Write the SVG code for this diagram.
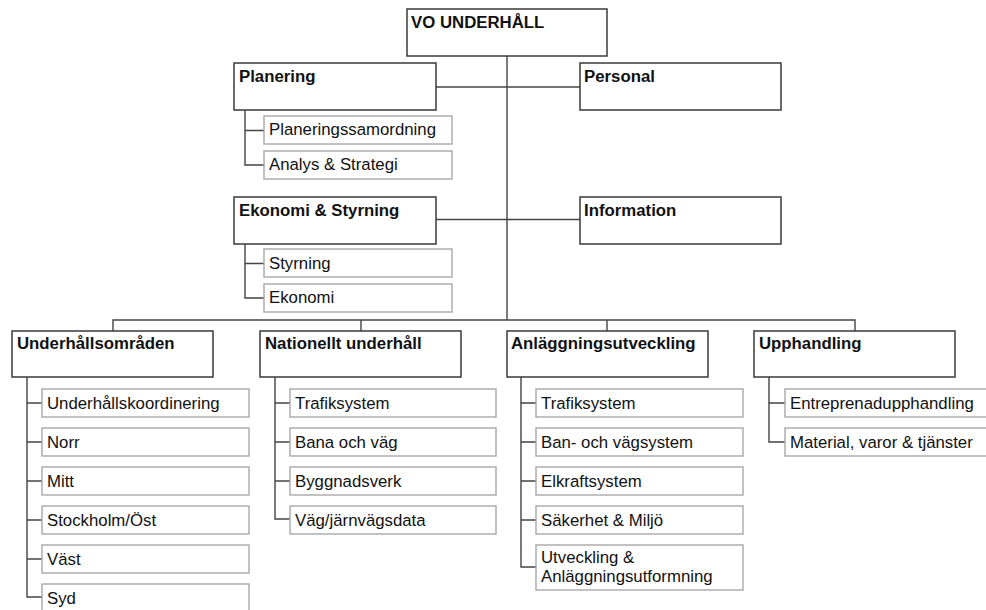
<svg xmlns="http://www.w3.org/2000/svg" width="986" height="610" viewBox="0 0 986 610">
  <style>
    .hd rect { fill: #fff; stroke: #3a3a3a; stroke-width: 1.5; }
    .hd text { font-family: "Liberation Sans", Arial, sans-serif; font-weight: bold; font-size: 16.8px; fill: #111; }
    .sub rect { fill: #fff; stroke: #a8a8a8; stroke-width: 1.4; }
    .sub text { font-family: "Liberation Sans", Arial, sans-serif; font-size: 16.8px; fill: #111; }
    #connectors path { fill: none; stroke: #444; stroke-width: 1.4; }
  </style>
  <rect width="986" height="610" fill="#fff"/>

  <g id="connectors">
    <!-- spine and staff lines -->
    <path d="M507,56 V320"/>
    <path d="M436,87 H580"/>
    <path d="M436,219.5 H580"/>
    <!-- bus to the four units -->
    <path d="M113,331 V320 H855 V331"/>
    <path d="M361,320 V331"/>
    <path d="M607,320 V331"/>
    <!-- sub-unit brackets -->
    <path d="M245,110 V165 H264 M245,130.5 H264"/>
    <path d="M245,244 V298 H264 M245,263.5 H264"/>
    <path d="M27,377 V597 H42 M27,403 H42 M27,442 H42 M27,481 H42 M27,520 H42 M27,559 H42"/>
    <path d="M275,377 V519 H290 M275,403 H290 M275,442 H290 M275,481 H290"/>
    <path d="M521,377 V567 H536 M521,403 H536 M521,442 H536 M521,481 H536 M521,520 H536"/>
    <path d="M769,377 V442 H785 M769,403 H785"/>
  </g>

  <g id="vo-underhall" class="hd"><rect x="407" y="9" width="200" height="47"/><text x="411" y="27.5">VO UNDERHÅLL</text></g>

  <g id="planering" class="hd"><rect x="234" y="63" width="202" height="47"/><text x="239" y="82">Planering</text></g>
  <g id="personal" class="hd"><rect x="580" y="63" width="201" height="47"/><text x="584" y="82">Personal</text></g>
  <g id="planeringssamordning" class="sub"><rect x="264" y="116" width="188" height="28"/><text x="269" y="135">Planeringssamordning</text></g>
  <g id="analys-strategi" class="sub"><rect x="264" y="151" width="188" height="28"/><text x="269" y="170">Analys &amp; Strategi</text></g>

  <g id="ekonomi-styrning" class="hd"><rect x="234" y="197" width="202" height="47"/><text x="239" y="216">Ekonomi &amp; Styrning</text></g>
  <g id="information" class="hd"><rect x="580" y="197" width="201" height="47"/><text x="584" y="216">Information</text></g>
  <g id="styrning" class="sub"><rect x="264" y="249" width="188" height="28"/><text x="269" y="269">Styrning</text></g>
  <g id="ekonomi" class="sub"><rect x="264" y="284" width="188" height="28"/><text x="269" y="303">Ekonomi</text></g>

  <g id="underhallsomraden" class="hd"><rect x="12" y="331" width="201" height="46"/><text x="17" y="349">Underhållsområden</text></g>
  <g id="uo-koordinering" class="sub"><rect x="42" y="389" width="207" height="28"/><text x="47" y="409">Underhållskoordinering</text></g>
  <g id="uo-norr" class="sub"><rect x="42" y="428" width="207" height="28"/><text x="47" y="448">Norr</text></g>
  <g id="uo-mitt" class="sub"><rect x="42" y="467" width="207" height="28"/><text x="47" y="487">Mitt</text></g>
  <g id="uo-stockholm" class="sub"><rect x="42" y="506" width="207" height="28"/><text x="47" y="526">Stockholm/Öst</text></g>
  <g id="uo-vast" class="sub"><rect x="42" y="545" width="207" height="28"/><text x="47" y="565">Väst</text></g>
  <g id="uo-syd" class="sub"><rect x="42" y="584" width="207" height="28"/><text x="47" y="604">Syd</text></g>

  <g id="nationellt-underhall" class="hd"><rect x="260" y="331" width="201" height="46"/><text x="265" y="349">Nationellt underhåll</text></g>
  <g id="nu-trafiksystem" class="sub"><rect x="290" y="389" width="206" height="28"/><text x="295" y="409">Trafiksystem</text></g>
  <g id="nu-bana-vag" class="sub"><rect x="290" y="428" width="206" height="28"/><text x="295" y="448">Bana och väg</text></g>
  <g id="nu-byggnadsverk" class="sub"><rect x="290" y="467" width="206" height="28"/><text x="295" y="487">Byggnadsverk</text></g>
  <g id="nu-data" class="sub"><rect x="290" y="506" width="206" height="28"/><text x="295" y="526">Väg/järnvägsdata</text></g>

  <g id="anlaggningsutveckling" class="hd"><rect x="507" y="331" width="201" height="46"/><text x="511" y="349">Anläggningsutveckling</text></g>
  <g id="au-trafiksystem" class="sub"><rect x="536" y="389" width="207" height="28"/><text x="541" y="409">Trafiksystem</text></g>
  <g id="au-ban-vagsystem" class="sub"><rect x="536" y="428" width="207" height="28"/><text x="541" y="448">Ban- och vägsystem</text></g>
  <g id="au-elkraft" class="sub"><rect x="536" y="467" width="207" height="28"/><text x="541" y="487">Elkraftsystem</text></g>
  <g id="au-sakerhet" class="sub"><rect x="536" y="506" width="207" height="28"/><text x="541" y="526">Säkerhet &amp; Miljö</text></g>
  <g id="au-utveckling" class="sub"><rect x="536" y="545" width="207" height="45"/><text x="541" y="563">Utveckling &amp;</text><text x="541" y="582">Anläggningsutformning</text></g>

  <g id="upphandling" class="hd"><rect x="754" y="331" width="201" height="46"/><text x="759" y="349">Upphandling</text></g>
  <g id="up-entreprenad" class="sub"><rect x="785" y="389" width="210" height="28"/><text x="790" y="409">Entreprenadupphandling</text></g>
  <g id="up-material" class="sub"><rect x="785" y="428" width="210" height="28"/><text x="790" y="448">Material, varor &amp; tjänster</text></g>
</svg>
